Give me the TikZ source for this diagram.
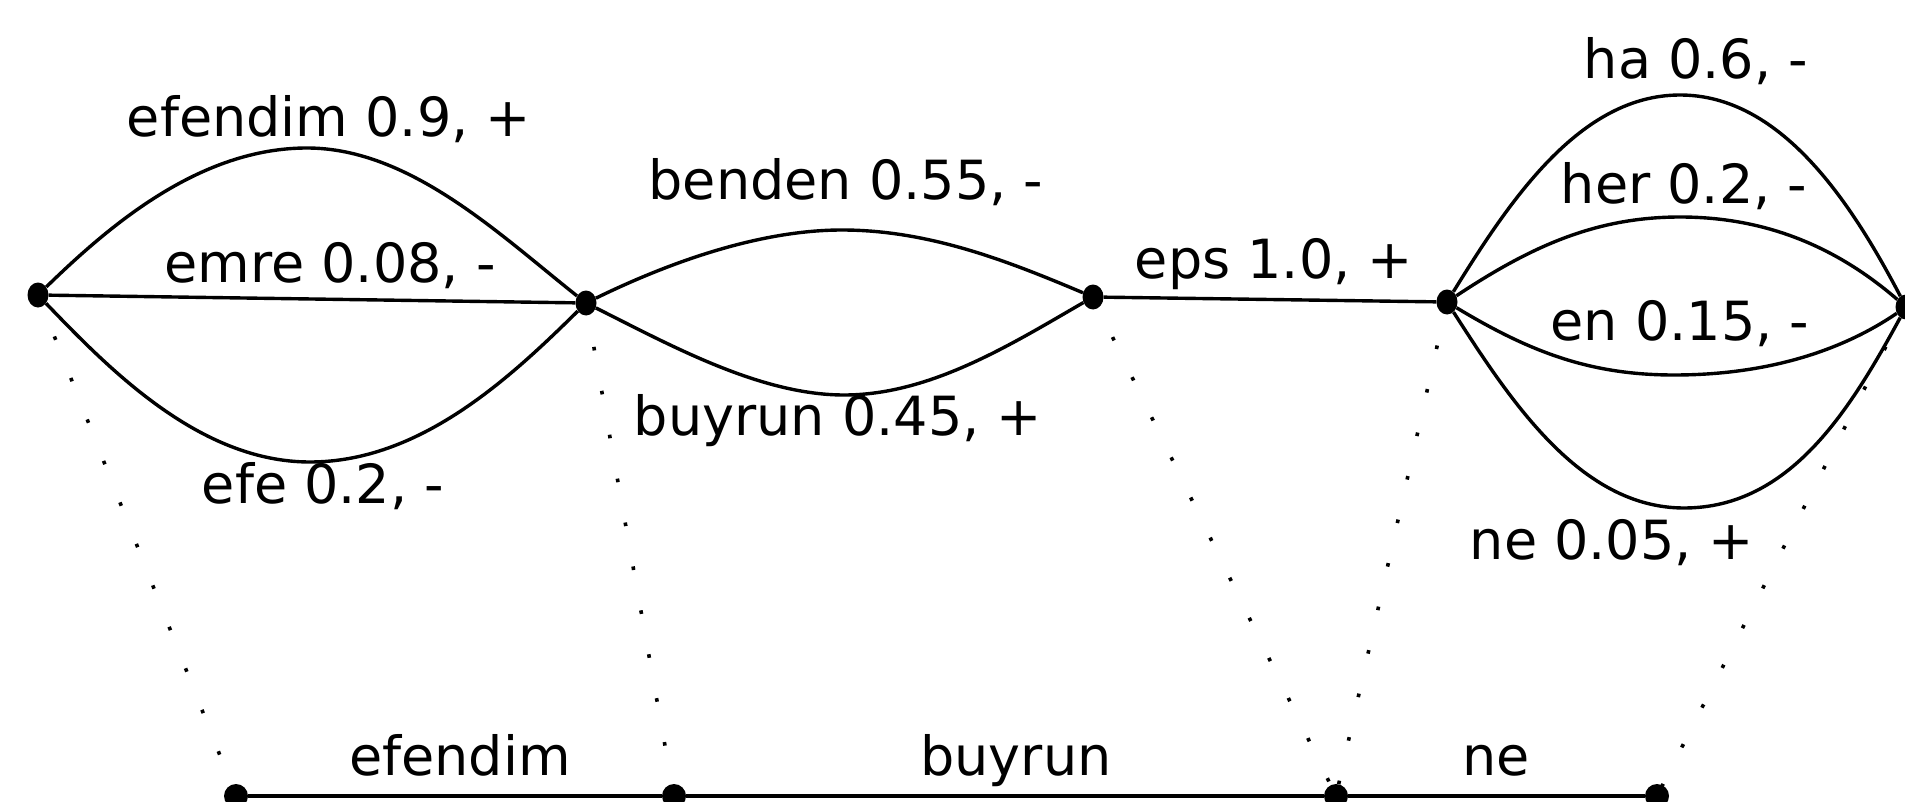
\documentclass[tikz,border=0pt]{standalone}
\usepackage{fontspec}
\setmainfont{DejaVu Sans}
\usetikzlibrary{shapes.geometric}
\begin{document}
\begin{tikzpicture}[x=1pt,y=-1pt,
  dot/.style={ellipse, fill=black, inner sep=0pt, minimum width=21pt, minimum height=25pt},
  bdot/.style={ellipse, fill=black, inner sep=0pt, minimum width=24pt, minimum height=24pt},
  edge/.style={line width=3.4pt, black},
  alignline/.style={line width=3.6pt, line cap=butt, dash pattern=on 3.6pt off 41pt},
  lab/.style={font=\fontsize{54}{60}\selectfont, anchor=base, inner sep=0pt}]
\useasboundingbox (0,0) rectangle (1905,802);
\clip (0,0) rectangle (1905,802);
% top nodes
\node[dot] (A) at (38,295) {};
\node[dot] (B) at (586,303) {};
\node[dot] (C) at (1093,297) {};
\node[dot] (D) at (1447,302) {};
\node[dot] (E) at (1906,307) {};
% bottom nodes
\node[bdot] (P) at (236,796) {};
\node[bdot] (Q) at (674,796) {};
\node[bdot] (R) at (1336,796) {};
\node[bdot] (S) at (1657,796) {};
% alignment
\draw[alignline] (A.center) -- (P.center);
\draw[alignline] (B.center) -- (Q.center);
\draw[alignline] (C.center) -- (R.center);
\draw[alignline] (D.center) -- (R.center);
\draw[alignline] (E.center) -- (S.center);
% edges
\draw[edge] (A) .. controls (110,225) and (200,148) .. (307,148)
                .. controls (410,148) and (500,235) .. (B);
\draw[edge] (A) -- (B);
\draw[edge] (A) .. controls (110,370) and (200,462) .. (310,462)
                .. controls (420,462) and (510,378) .. (B);
\draw[edge] (B) .. controls (670,262) and (760,230) .. (842,230)
                .. controls (930,230) and (1010,262) .. (C);
\draw[edge] (B) .. controls (670,345) and (760,395) .. (844,395)
                .. controls (930,395) and (1010,345) .. (C);
\draw[edge] (C) -- (D);
\draw[edge] (D) .. controls (1510,200) and (1580,95) .. (1680,95)
                .. controls (1780,95) and (1850,200) .. (E);
\draw[edge] (D) .. controls (1530,247) and (1595,217) .. (1680,217)
                .. controls (1770,217) and (1840,250) .. (E);
\draw[edge] (D) .. controls (1530,352) and (1590,375) .. (1674,375)
                .. controls (1765,375) and (1840,352) .. (E);
\draw[edge] (D) .. controls (1510,400) and (1580,508) .. (1684,508)
                .. controls (1790,508) and (1850,410) .. (E);
\draw[edge] (P) -- (Q) -- (R) -- (S);
% labels
\node[lab] (l1) at (329,137) {efendim 0.9, +};
\node[lab] (l2) at (330,283) {emre 0.08, -};
\node[lab] (l3) at (323,503) {efe 0.2, -};
\node[lab] (l4) at (846,200) {benden 0.55, -};
\node[lab] (l5) at (838,435) {buyrun 0.45, +};
\node[lab] (l6) at (1274,278) {eps 1.0, +};
\node[lab] (l7) at (1696,79) {ha 0.6, -};
\node[lab] (l8) at (1684,204) {her 0.2, -};
\node[lab] (l9) at (1680,340) {en 0.15, -};
\node[lab] (l10) at (1612,559) {ne 0.05, +};
\node[lab] (l11) at (460,775) {efendim};
\node[lab] (l12) at (1016,775) {buyrun};
\node[lab] (l13) at (1496,775) {ne};
\end{tikzpicture}
\end{document}
